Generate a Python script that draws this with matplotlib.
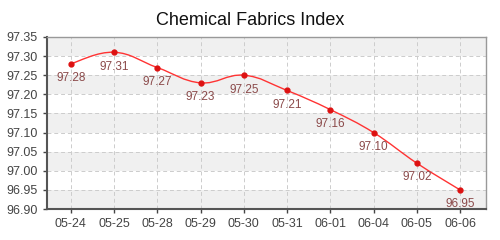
import numpy as np
import matplotlib
matplotlib.use("Agg")
from matplotlib import pyplot as plt
from matplotlib.path import Path
from matplotlib.patches import PathPatch

plt.rcParams['font.family'] = ['Liberation Sans', 'DejaVu Sans']

dates = ['05-24', '05-25', '05-28', '05-29', '05-30', '05-31', '06-01', '06-04', '06-05', '06-06']
values = [97.28, 97.31, 97.27, 97.23, 97.25, 97.21, 97.16, 97.10, 97.02, 96.95]
y_ticks = [96.90, 96.95, 97.00, 97.05, 97.10, 97.15, 97.20, 97.25, 97.30, 97.35]


def smooth_path(xs, ys, t=0.2):
    # catmull-rom style bezier through the points
    verts = [(xs[0], ys[0])]
    codes = [Path.MOVETO]
    n = len(xs)
    for i in range(n - 1):
        x0, y0 = (xs[i - 1], ys[i - 1]) if i > 0 else (xs[i], ys[i])
        x1, y1 = xs[i], ys[i]
        x2, y2 = xs[i + 1], ys[i + 1]
        x3, y3 = (xs[i + 2], ys[i + 2]) if i + 2 < n else (x2, y2)
        c1 = (x1 + (x2 - x0) * t, y1 + (y2 - y0) * t)
        c2 = (x2 - (x3 - x1) * t, y2 - (y3 - y1) * t)
        verts += [c1, c2, (x2, y2)]
        codes += [Path.CURVE4] * 3
    return Path(verts, codes)


fig = plt.figure(figsize=(5, 2.4), dpi=100)
ax = fig.add_axes([0.094, 0.129, 0.878, 0.717])

x = np.arange(len(dates))

# alternating bands
for i in range(len(y_ticks) - 1):
    if i % 2 == 0:
        ax.axhspan(y_ticks[i], y_ticks[i + 1], color='#f0f0f0', zorder=0, lw=0)

ax.grid(True, color='#cccccc', linestyle=(0, (4, 3)), linewidth=0.7, zorder=1)

ax.add_patch(PathPatch(smooth_path(x, values), fill=False, edgecolor='#ff3333', lw=1.0, zorder=3))
ax.plot(x, values, 'o', color='#dd1111', markersize=3.5, zorder=4)

for xi, v in zip(x, values):
    ax.annotate('%.2f' % v, (xi, v), xytext=(0, -6), textcoords='offset points',
                ha='center', va='top', fontsize=8.5, color='#8b4a4a', zorder=5)

ax.set_xlim(-0.55, 9.6)
ax.set_ylim(96.90, 97.35)
ax.set_xticks(x)
ax.set_xticklabels(dates)
ax.set_yticks(y_ticks)
ax.set_yticklabels(['%.2f' % t for t in y_ticks])
ax.tick_params(labelsize=9, colors='#444444', length=3, width=1)

for s in ['left', 'bottom']:
    ax.spines[s].set_color('#555555')
    ax.spines[s].set_linewidth(1.5)
for s in ['top', 'right']:
    ax.spines[s].set_color('#999999')
    ax.spines[s].set_linewidth(1.0)

fig.text(0.5, 0.915, 'Chemical Fabrics Index', ha='center', va='center', fontsize=13, color='#111111')

fig.savefig('out.png', dpi=100)
